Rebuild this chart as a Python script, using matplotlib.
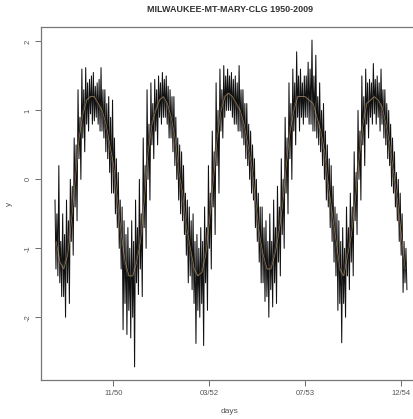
import numpy as np
import matplotlib.pyplot as plt

# daily series (days from 1950-01-01), read every 20 days at four spots:
# big upper swing (day+0), smaller lower swing (day+5), smaller upper swing (day+10), big lower swing (day+15)
step_days = 20
hi = [-0.3, 0.2, -0.5, -0.3, 0.0, 0.6, 1.3, 1.6, 1.62, 1.45, 1.55, 1.4, 1.62, 1.3, 1.2, 1.15, 0.3, -0.3,
      -0.6, -0.7, -0.6, -0.3, 0.0, 0.6, 1.3, 1.4, 1.45, 1.5, 1.55, 1.5, 1.3, 1.2, 0.6, 0.4, -0.2, -0.4,
      -0.5, -0.8, -0.7, -0.4, 0.2, 0.7, 1.4, 1.6, 1.65, 1.6, 1.55, 1.5, 1.65, 1.3, 1.1, 0.7, 0.3, -0.2,
      -0.4, -0.6, -0.5, -0.3, -0.1, 0.3, 0.9, 1.4, 1.6, 1.85, 1.6, 1.5, 1.7, 2.02, 1.8, 1.4, 1.1, 0.5,
      0.2, -0.4, -0.6, -0.7, -0.4, -0.2, 0.4, 1.0, 1.5, 1.6, 1.45, 1.68, 1.5, 1.6, 1.3, 1.0, 0.6, 0.1,
      -0.2, -0.9]
lo = [-1.4, -1.7, -2.0, -1.8, -1.1, -0.6, 0.0, 0.4, 0.7, 0.8, 0.9, 0.7, 0.6, 0.3, -0.2, -0.5, -1.0, -2.18,
      -2.25, -2.3, -2.72, -1.67, -1.7, -1.0, -0.3, 0.3, 0.5, 0.8, 0.9, 0.6, 0.4, 0.0, -0.5, -0.8, -1.5, -1.6,
      -2.38, -2.0, -2.41, -1.9, -1.3, -0.8, -0.2, 0.6, 1.0, 1.0, 0.8, 0.7, 0.6, 0.3, 0.0, -0.3, -0.9, -1.5,
      -1.77, -2.0, -1.85, -1.8, -1.4, -1.0, -0.5, 0.0, 0.5, 0.7, 0.8, 0.9, 0.8, 0.7, 0.5, 0.2, -0.3, -0.7,
      -1.2, -1.9, -2.37, -2.0, -1.6, -1.4, -0.8, -0.3, 0.2, 0.6, 0.8, 0.8, 0.7, 0.6, 0.3, -0.1, -0.4, -0.9,
      -1.64, -1.6]
hi2 = [-0.5, -0.9, -0.8, -0.6, -0.1, 0.5, 0.9, 1.3, 1.4, 1.5, 1.35, 1.45, 1.3, 1.1, 0.9, 0.6, 0.1, -0.4,
       -0.8, -1.0, -0.9, -0.7, -0.5, 0.2, 0.8, 1.1, 1.3, 1.4, 1.45, 1.35, 1.2, 0.9, 0.5, 0.2, -0.3, -0.6,
       -0.9, -1.0, -0.9, -0.7, -0.2, 0.4, 1.0, 1.3, 1.5, 1.5, 1.45, 1.4, 1.3, 1.1, 0.8, 0.5, 0.0, -0.4,
       -0.7, -0.9, -0.9, -0.7, -0.4, 0.0, 0.6, 1.1, 1.4, 1.5, 1.4, 1.5, 1.6, 1.5, 1.2, 1.0, 0.7, 0.3,
       -0.1, -0.5, -0.9, -1.0, -0.7, -0.4, 0.1, 0.7, 1.2, 1.4, 1.4, 1.45, 1.4, 1.3, 1.1, 0.8, 0.4, 0.0,
       -0.5, -1.0]
lo2 = [-1.3, -1.5, -1.7, -1.5, -0.9, -0.4, 0.3, 0.6, 0.8, 0.95, 0.85, 0.8, 0.7, 0.4, 0.1, -0.2, -0.7, -1.3,
       -1.8, -1.9, -2.0, -1.5, -1.3, -0.7, 0.0, 0.5, 0.7, 0.9, 0.9, 0.8, 0.6, 0.2, -0.3, -0.6, -1.1, -1.4,
       -1.8, -1.9, -1.8, -1.5, -1.0, -0.4, 0.2, 0.7, 0.9, 1.0, 0.9, 0.8, 0.7, 0.5, 0.2, -0.2, -0.7, -1.2,
       -1.5, -1.7, -1.6, -1.5, -1.2, -0.8, -0.2, 0.3, 0.7, 0.9, 0.9, 0.9, 0.8, 0.7, 0.6, 0.4, 0.0, -0.4,
       -0.9, -1.4, -1.8, -1.8, -1.4, -1.2, -0.6, 0.0, 0.5, 0.8, 0.9, 0.95, 0.9, 0.8, 0.5, 0.2, -0.2, -0.6,
       -1.1, -1.5]
# seasonal smooth, same 20-day steps
smooth = [-0.9, -1.2, -1.3, -1.1, -0.6, 0.0, 0.6, 0.95, 1.15, 1.2, 1.2, 1.1, 1.0, 0.8, 0.5, 0.2, -0.3, -0.8,
          -1.2, -1.4, -1.4, -1.2, -0.9, -0.3, 0.4, 0.8, 1.0, 1.15, 1.2, 1.1, 0.9, 0.6, 0.1, -0.2, -0.7, -1.0,
          -1.3, -1.4, -1.35, -1.1, -0.6, 0.0, 0.6, 1.0, 1.2, 1.25, 1.2, 1.1, 1.0, 0.8, 0.5, 0.2, -0.3, -0.8,
          -1.1, -1.3, -1.3, -1.1, -0.8, -0.4, 0.2, 0.7, 1.0, 1.2, 1.2, 1.2, 1.15, 1.1, 0.9, 0.7, 0.4, -0.1,
          -0.5, -0.9, -1.3, -1.4, -1.1, -0.8, -0.3, 0.3, 0.8, 1.1, 1.15, 1.2, 1.15, 1.05, 0.8, 0.5, 0.1, -0.3,
          -0.8, -1.3]

tick_days = [304, 804, 1304, 1804]
tick_labels = ['11/50', '03/52', '07/53', '12/54']

n = min(len(hi), len(lo), len(hi2), len(lo2))
days = np.arange(n) * step_days
x = np.empty(4 * n)
y = np.empty(4 * n)
x[0::4] = days
x[1::4] = days + 5
x[2::4] = days + 10
x[3::4] = days + 15
y[0::4] = hi[:n]
y[1::4] = lo2[:n]
y[2::4] = hi2[:n]
y[3::4] = lo[:n]

plt.rcParams['font.family'] = ['Liberation Sans', 'DejaVu Sans']
fig = plt.figure(figsize=(4.14, 4.19), dpi=100)
ax = fig.add_axes([41 / 414, 39 / 419, 378 / 414, 353 / 419])

ax.plot(x, y, color='#111111', lw=0.75)
sd = np.arange(len(smooth)) * step_days
ax.plot(sd, smooth, color='#7a4a40', lw=0.5, alpha=0.6)
ax.plot(sd + 6, smooth, color='#d8cf92', lw=0.5, alpha=0.6)

ax.set_xlim(-73, 1898)
ax.set_ylim(-2.91, 2.21)
ax.set_xticks(tick_days)
ax.set_xticklabels(tick_labels)
ax.set_yticks([-2, -1, 0, 1, 2])
ax.set_yticklabels(['-2', '-1', '0', '1', '2'], rotation=90, va='center')
ax.tick_params(labelsize=5.5, colors='#555555', length=4, width=0.6, direction='out', pad=3)
for s in ax.spines.values():
    s.set_color('#777777')
    s.set_linewidth(0.9)

ax.set_xlabel('days', fontsize=6, color='#555555', labelpad=8)
ax.set_ylabel('y', fontsize=6, color='#555555', labelpad=8)
fig.text(230 / 414, 1 - 10 / 419, 'MILWAUKEE-MT-MARY-CLG 1950-2009', ha='center', va='center',
         fontsize=6.5, fontweight='bold', color='#333333')

fig.savefig('out.png', dpi=100)
